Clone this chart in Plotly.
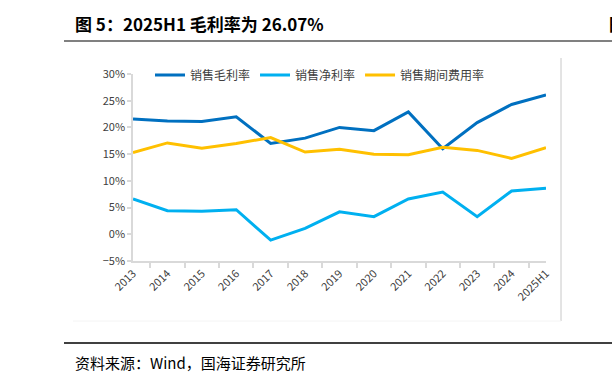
import plotly.graph_objects as go

years = ["2013", "2014", "2015", "2016", "2017", "2018", "2019", "2020",
         "2021", "2022", "2023", "2024", "2025H1"]
gross_margin = [21.6, 21.2, 21.1, 22.0, 17.0, 18.0, 20.0, 19.4, 22.9, 16.0, 20.9, 24.3, 26.07]
net_margin = [6.6, 4.4, 4.3, 4.6, -1.1, 1.1, 4.2, 3.3, 6.6, 7.9, 3.3, 8.1, 8.6]
expense_rate = [15.3, 17.1, 16.1, 17.0, 18.1, 15.4, 15.9, 15.0, 14.9, 16.3, 15.7, 14.2, 16.2]

series_names = ["销售毛利率", "销售净利率", "销售期间费用率"]
colors = ["#0070C0", "#00B0F0", "#FFC000"]

W, H = 612, 379
L, R, T, B = 133, 546, 74, 261
FONT = "Noto Sans CJK SC"


def px(x):
    return (x - L) / (R - L)


def py(y):
    return (B - y) / (B - T)


fig = go.Figure()
for name, vals, col in zip(series_names, [gross_margin, net_margin, expense_rate], colors):
    fig.add_trace(go.Scatter(x=years, y=vals, mode="lines", name=name,
                             line=dict(color=col, width=3)))

shapes = [
    # title underline
    dict(type="line", xref="paper", yref="paper", x0=px(64), x1=px(612), y0=py(41), y1=py(41),
         line=dict(color="#808080", width=2)),
    # footer line
    dict(type="line", xref="paper", yref="paper", x0=px(64), x1=px(612), y0=py(343), y1=py(343),
         line=dict(color="#000000", width=1.5)),
    # right divider
    dict(type="line", xref="paper", yref="paper", x0=px(561), x1=px(561), y0=py(58), y1=py(321),
         line=dict(color="#C8C8C8", width=1)),
    # faint bottom frame
    dict(type="line", xref="paper", yref="paper", x0=px(73), x1=px(561), y0=py(321), y1=py(321),
         line=dict(color="#F4F4F4", width=1)),
]

annotations = [
    dict(text="<b>图 5：2025H1 毛利率为 26.07%</b>", xref="paper", yref="paper",
         x=px(73), y=py(23), xanchor="left", yanchor="middle", showarrow=False,
         font=dict(family=FONT, size=17, color="#000000")),
    dict(text="<b>图</b>", xref="paper", yref="paper",
         x=px(607), y=py(23), xanchor="left", yanchor="middle", showarrow=False,
         font=dict(family=FONT, size=17, color="#000000")),
    dict(text="资料来源：Wind，国海证券研究所", xref="paper", yref="paper",
         x=px(73), y=py(362), xanchor="left", yanchor="middle", showarrow=False,
         font=dict(family=FONT, size=15, color="#000000")),
]

fig.update_layout(
    width=W, height=H,
    margin=dict(l=L, r=W - R, t=T, b=H - B, pad=0),
    paper_bgcolor="white", plot_bgcolor="white",
    font=dict(family=FONT, size=11, color="#404040"),
    showlegend=True,
    legend=dict(orientation="h", x=px(150), y=py(75), xanchor="left", yanchor="middle",
                font=dict(family=FONT, size=12, color="#404040"),
                bgcolor="rgba(0,0,0,0)", itemwidth=30, tracegroupgap=0),
    shapes=shapes,
    annotations=annotations,
)

fig.update_xaxes(
    type="category", tickangle=-45, tickson="boundaries",
    showline=True, linecolor="#D9D9D9", linewidth=1.5,
    ticks="outside", ticklen=5, tickcolor="#D9D9D9", tickwidth=1.5,
    showgrid=False, zeroline=False,
    tickfont=dict(family=FONT, size=11, color="#404040"),
)
fig.update_yaxes(
    range=[-5, 30], dtick=5, tick0=0, ticksuffix="%",
    showline=True, linecolor="#D9D9D9", linewidth=1.5,
    ticks="outside", ticklen=4, tickcolor="#D9D9D9", tickwidth=1.5,
    showgrid=False, zeroline=False,
    tickfont=dict(family=FONT, size=11, color="#404040"),
)

fig.write_html("out.html", config={"displayModeBar": False},
               post_script="document.body.style.margin='0';document.body.style.overflow='hidden';")
